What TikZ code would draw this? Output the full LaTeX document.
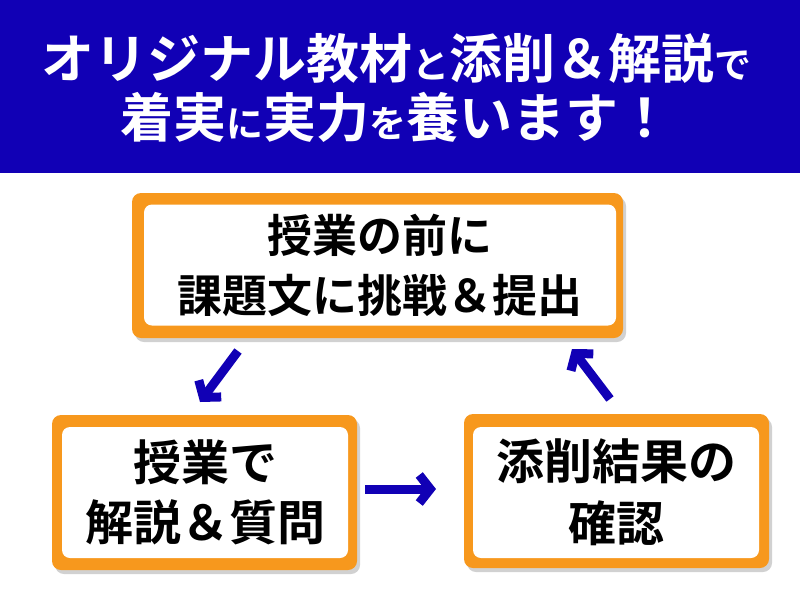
\documentclass[tikz,border=0pt]{standalone}
\usepackage{fontspec}
\newfontfamily\jp{Noto Sans CJK JP}[BoldFont={Noto Sans CJK JP Bold}]
\usetikzlibrary{arrows.meta,shadows}
\definecolor{hdrblue}{RGB}{17,0,181}
\definecolor{boxorange}{RGB}{247,152,29}
\newcommand{\bigt}{\fontsize{53}{60}\selectfont}
\newcommand{\smallt}{\fontsize{37}{40}\selectfont}
\begin{document}
\begin{tikzpicture}[x=1pt,y=-1pt,
  titletext/.style={text=white, inner sep=0pt, anchor=base, font=\jp\bfseries},
  outerbox/.style={fill=boxorange, rounded corners=9pt, inner sep=0pt,
    drop shadow={shadow xshift=3pt, shadow yshift=-4pt, fill=black, opacity=0.18}},
  innerbox/.style={fill=white, rounded corners=8pt, inner sep=0pt, align=center, text=black},
  barrow/.style={draw=hdrblue, line width=9pt, line cap=butt,
    -{Straight Barb[sharp, length=11pt, width=28pt]}}
]
\useasboundingbox (0,0) rectangle (800,600);
\fill[hdrblue] (0,0) rectangle (800,173);
\node[titletext] (t1) at (396,78) {\bigt オリジナル教材{\smallt と}添削＆解説{\smallt で}};
\node[titletext] (t2) at (396,137) {\bigt 着実{\smallt に}実力{\smallt を}養います！};

% top box
\node[outerbox, minimum width=491pt, minimum height=145pt] (top) at (377.5,265.5) {};
\node[innerbox, minimum width=472pt, minimum height=121pt,
  font=\jp\bfseries\fontsize{45}{60}\selectfont] (topin) at (380,265) {授業の前に\\課題文に挑戦＆提出};

% left box
\node[outerbox, minimum width=305pt, minimum height=155pt] (left) at (204.5,492.5) {};
\node[innerbox, minimum width=286pt, minimum height=131pt,
  font=\jp\bfseries\fontsize{48}{60}\selectfont] (leftin) at (205,492.5) {授業で\\解説＆質問};

% right box
\node[outerbox, minimum width=305pt, minimum height=154pt] (right) at (616.5,491) {};
\node[innerbox, minimum width=286pt, minimum height=131pt,
  font=\jp\bfseries\fontsize{48}{62}\selectfont] (rightin) at (616,492.5) {添削結果の\\確認};

% arrows
\coordinate (a1s) at (238,351);
\coordinate (a1e) at (200,402);
\coordinate (a2s) at (365,489);
\coordinate (a2e) at (436,489);
\coordinate (a3s) at (610,399);
\coordinate (a3e) at (572,349);
\draw[barrow] (a1s) -- (a1e);
\draw[barrow] (a2s) -- (a2e);
\draw[barrow] (a3s) -- (a3e);
\end{tikzpicture}
\end{document}
